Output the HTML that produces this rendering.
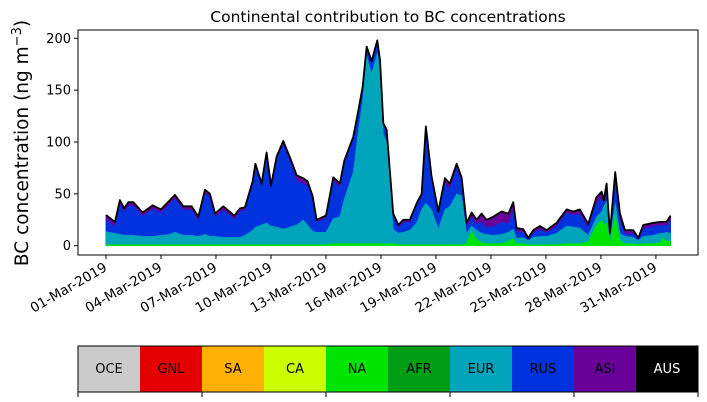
<!DOCTYPE html>
<html><head><meta charset="utf-8"><style>
body{margin:0;background:#fff;width:707px;height:402px;overflow:hidden;font-family:"DejaVu Sans","Liberation Sans",sans-serif}
svg{display:block}
</style></head><body>
<svg id="chart" width="707" height="402" xmlns="http://www.w3.org/2000/svg" font-family="DejaVu Sans, Liberation Sans, sans-serif">
<text x="388" y="22" text-anchor="middle" font-size="15.5">Continental contribution to BC concentrations</text>
<text transform="translate(28,143) rotate(-90)" text-anchor="middle" font-size="18.5">BC concentration (ng m<tspan dy="-7" font-size="13">−3</tspan><tspan dy="7">)</tspan></text>
<g id="plot"></g>
<g id="cbar"></g>
</svg>
<script>
const days=[0,0.49,0.76,1.0,1.22,1.49,2.0,2.55,3.0,3.49,3.76,4.22,4.67,5.04,5.4,5.67,5.95,6.4,7.0,7.31,7.58,8.0,8.15,8.49,8.76,9.0,9.31,9.67,10.04,10.4,10.76,11.0,11.27,11.49,12.0,12.4,12.76,13.0,13.49,13.76,14.0,14.22,14.49,14.8,14.95,15.13,15.31,15.67,15.95,16.22,16.58,16.95,17.22,17.45,17.76,18.13,18.49,18.76,19.13,19.4,19.67,19.95,20.22,20.49,20.76,21.13,21.58,21.95,22.22,22.4,22.76,23.04,23.31,23.67,24.04,24.58,25.13,25.49,25.85,26.31,26.76,27.04,27.16,27.31,27.49,27.78,28.04,28.31,28.76,29.04,29.31,29.85,30.22,30.4,30.58,30.8];
const total=[29.6,23,44,36,42,42,32,39,35,44,49,38,38,28,54,50,31,38,29,36,37,62,79,60,90,58,86,101,85,68,65,62,48,25,29,66,60,82,105,130,153,192,178,198,179,118,112,31,20,25,25,41,50,115,67,33,65,60,79,66,22,32,25,31,25,28,33,31,42,17,16,7.5,15,19,15,22,35,33,35,21,47,52,44,60,12,71,31,15,15,7.5,20,22,23,23,23,29];
const eurTop=[13.5,12,11,10,10,10,9,9,10,11,13,10,10,9,11,9,9,8,8,8,10,15,18,20,22,19,18,16,18,20,25,20,14,13,13,26,28,45,71,110,140,183,166,186,170,108,100,16,12,13,15,22,35,41,35,16,35,38,50,48,12,19,15,12,11,10,11,13,16,7,8,5,8,9,9,12,19,18,17,10,28,33,38,43,7,41,12,9,8,5,9,10,12,12,13,12];
const na=[1,1,1,1,1,1,1,1,1,1,1,1,1,1,1,1,1,1,1,1,1,1,1,1,1,1,1,1,1,1,1,1,1,1,1,2,2,2,2,2,2,2,2,2,2,2,2,2,1,1,1,1,1,1,1,1,1,1,1,1,2,14,6,3,2,2,2,4,7,2,2,1,1,1,1,1,2,2,2,4,20,25,20,22,3,30,5,2,2,1,2,2,3,8,4,5];
const asi=[4,4,4,3,3,3,3,3,3,3,3,3,3,3,3,3,3,3,3,3,2,3,3,3,3,3,3,3,4,5,5,4,3,2,2,3,3,3,2,2,1,1,1,1,1,1,1,2,2,2,2,2,2,3,3,3,4,5,4,5,4,4,4,8,7,9,10,9,8,3,3,1,2,3,2,3,3,3,4,3,5,6,3,8,2,12,6,3,3,1,3,3,3,3,3,3];
const yTicks=[0,50,100,150,200];
const xTickDays=[0,3,6,9,12,15,18,21,24,27,30];
const xTickLabels=["01-Mar-2019","04-Mar-2019","07-Mar-2019","10-Mar-2019","13-Mar-2019","16-Mar-2019","19-Mar-2019","22-Mar-2019","25-Mar-2019","28-Mar-2019","31-Mar-2019"];
const regions=["OCE","GNL","SA","CA","NA","AFR","EUR","RUS","ASI","AUS"];
const regionColors=["#cbcbcb","#e50000","#ffb000","#ccff00","#00e400","#009e14","#00a5bc","#0033dd","#6a009a","#000000"];

const NS="http://www.w3.org/2000/svg";
const L=78,R=698,T=30,B=255;
const xs=d=>106+18.33*d;
const ys=v=>245.7-v*1.037;
function mk(tag,attrs,parent){const e=document.createElementNS(NS,tag);for(const k in attrs)e.setAttribute(k,attrs[k]);parent.appendChild(e);return e;}
const plot=document.getElementById('plot');
function area(lo,hi,color,name){
  let d="M"+days.map((t,i)=>xs(t).toFixed(2)+","+ys(hi[i]).toFixed(2)).join("L");
  for(let i=days.length-1;i>=0;i--)d+="L"+xs(days[i]).toFixed(2)+","+ys(lo[i]).toFixed(2);
  const p=mk('path',{d:d+"Z",fill:color,stroke:color,'stroke-width':0.5},plot);
  
  
}
const zero=days.map(()=>0);
const eurT=eurTop.map((v,i)=>Math.max(v,na[i]));
const rusT=total.map((v,i)=>Math.max(v-asi[i]-0.5,eurT[i]));
const asiT=total.map((v,i)=>Math.max(v-0.5,rusT[i]));
area(zero,total,regionColors[9],'aus-area');
area(zero,asiT,regionColors[8],'asi-area');
area(zero,rusT,regionColors[7],'rus-area');
area(zero,eurT,regionColors[6],'eur-area');
area(zero,na,regionColors[4],'na-area');
const line=mk('path',{d:"M"+days.map((t,i)=>xs(t).toFixed(2)+","+ys(total[i]).toFixed(2)).join("L"),fill:'none',stroke:'#000','stroke-width':1.8,'stroke-linejoin':'round'},plot);


const frame=mk('rect',{x:L,y:T,width:R-L,height:B-T,fill:'none',stroke:'#000','stroke-width':1},plot);


yTicks.forEach(v=>{
  const t=mk('line',{x1:L-4,x2:L,y1:ys(v),y2:ys(v),stroke:'#000'},plot);
  
  
  const tx=mk('text',{x:L-7,y:ys(v)+4.5,'text-anchor':'end','font-size':13},plot);
  tx.textContent=v;
  
  
});
xTickDays.forEach((d,i)=>{
  const x=xs(d);
  const t=mk('line',{x1:x,x2:x,y1:B,y2:B+4,stroke:'#000'},plot);
  
  
  const tx=mk('text',{transform:`translate(${x+2},${B+15}) rotate(-30)`,'text-anchor':'end','font-size':13.5},plot);
  tx.textContent=xTickLabels[i];
  
  
});
const cb=document.getElementById('cbar');
const cw=(R-L)/regions.length;
regions.forEach((r,i)=>{
  const rc=mk('rect',{x:L+i*cw,y:346,width:cw+0.5,height:46,fill:regionColors[i]},cb);
  
  
  const tx=mk('text',{x:L+i*cw+cw/2,y:373,'text-anchor':'middle','font-size':13,fill:r==="AUS"?"#fff":"#000"},cb);
  tx.textContent=r;
  
  
});
const cbf=mk('rect',{x:L,y:346,width:R-L,height:46,fill:'none',stroke:'#000','stroke-width':1},cb);


for(let i=0;i<=regions.length;i+=2){
  const t=mk('line',{x1:L+i*cw,x2:L+i*cw,y1:392,y2:397,stroke:'#000'},cb);
  
  
}
</script>
</body></html>
